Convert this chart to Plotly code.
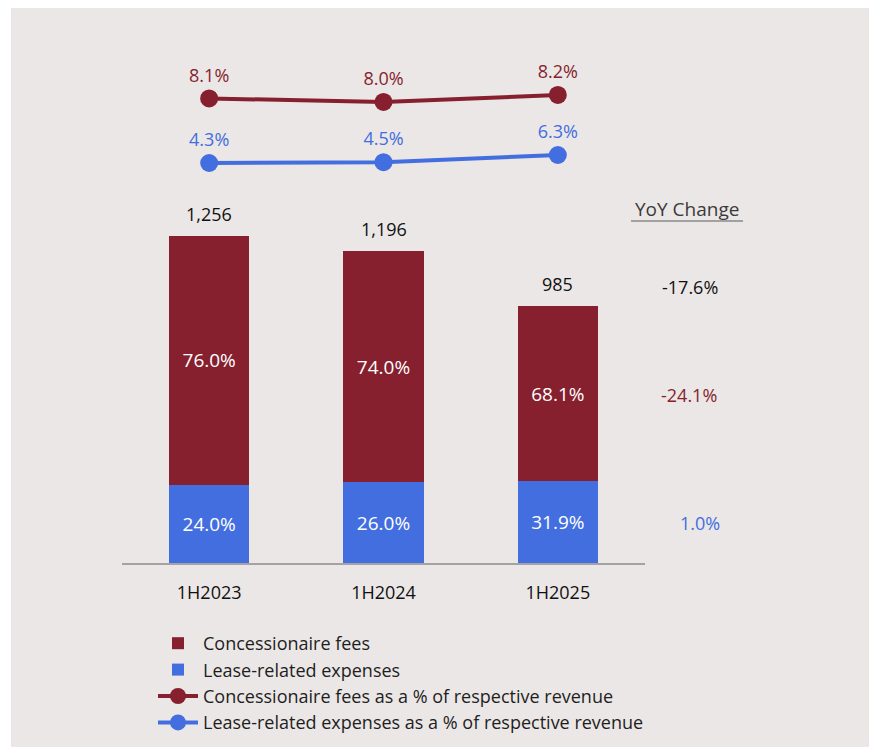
import plotly.graph_objects as go

categories = ["1H2023", "1H2024", "1H2025"]
totals = [1256, 1196, 985]
concession_vals = [955, 885, 671]
lease_vals = [301, 311, 314]
concession_share = ["76.0%", "74.0%", "68.1%"]
lease_share = ["24.0%", "26.0%", "31.9%"]
concession_pct_rev = [8.1, 8.0, 8.2]
lease_pct_rev = [4.3, 4.5, 6.3]
yoy_labels = ["-17.6%", "-24.1%", "1.0%"]

RED = "#861f2e"
BLUE = "#436ee0"
BG = "#ebe7e6"
FONT = "Open Sans"

W, H = 869, 739
L, R, T, B = 114, 232, 32, 184
PH = H - T - B  # plot height in px
PW = W - L - R


def px_x(x):
    return (x - 8 - L) / PW


def px_y(y):
    return (H - B - (y - 8)) / PH


fig = go.Figure()

fig.add_trace(go.Bar(
    x=categories, y=lease_vals, name="Lease-related expenses",
    marker=dict(color=BLUE, line=dict(width=0)), width=0.46,
    text=lease_share, textposition="inside", insidetextanchor="middle",
    textfont=dict(color="white", size=19, family=FONT),
    legendrank=2, hoverinfo="skip",
))
fig.add_trace(go.Bar(
    x=categories, y=concession_vals, name="Concessionaire fees",
    marker=dict(color=RED, line=dict(width=0)), width=0.46,
    text=concession_share, textposition="inside", insidetextanchor="middle",
    textfont=dict(color="white", size=19, family=FONT),
    legendrank=1, hoverinfo="skip",
))
fig.add_trace(go.Scatter(
    x=categories, y=concession_pct_rev, yaxis="y2",
    name="Concessionaire fees as a % of respective revenue",
    mode="lines+markers+text",
    line=dict(color=RED, width=4), marker=dict(color=RED, size=18),
    text=[f"{v:.1f}%" for v in concession_pct_rev], textposition="top center",
    textfont=dict(color=RED, size=18, family=FONT),
    legendrank=3, hoverinfo="skip",
))
fig.add_trace(go.Scatter(
    x=categories, y=lease_pct_rev, yaxis="y3",
    name="Lease-related expenses as a % of respective revenue",
    mode="lines+markers+text",
    line=dict(color=BLUE, width=4), marker=dict(color=BLUE, size=18),
    text=[f"{v:.1f}%" for v in lease_pct_rev], textposition="top center",
    textfont=dict(color=BLUE, size=18, family=FONT),
    legendrank=4, hoverinfo="skip",
))

annotations = []
for c, t in zip(categories, totals):
    annotations.append(dict(
        x=c, y=t, xref="x", yref="y", text=f"{t:,}", showarrow=False,
        xanchor="center", yanchor="bottom", yshift=8,
        font=dict(size=18, color="#111111", family=FONT),
    ))

annotations.append(dict(
    x=px_x(687), y=px_y(209), xref="paper", yref="paper", text="YoY Change",
    showarrow=False, xanchor="center", yanchor="middle",
    font=dict(size=19, color="#3a3a3a", family=FONT),
))
yoy_pos = [(690, 287, "#111111"), (689, 395, RED), (700, 523, BLUE)]
for (px, py, col), lab in zip(yoy_pos, yoy_labels):
    annotations.append(dict(
        x=px_x(px), y=px_y(py), xref="paper", yref="paper", text=lab, showarrow=False,
        xanchor="center", yanchor="middle",
        font=dict(size=18, color=col, family=FONT),
    ))

shapes = [
    dict(type="rect", xref="paper", yref="paper", x0=-0.5, x1=px_x(11),
         y0=-0.6, y1=1.3, fillcolor="white", line=dict(width=0), layer="below"),
    dict(type="line", xref="paper", yref="paper", x0=px_x(631), x1=px_x(743),
         y0=px_y(221), y1=px_y(221), line=dict(color="#8a8a8a", width=1.5)),
]

fig.update_layout(
    width=W, height=H,
    margin=dict(l=L, r=R, t=T, b=B, autoexpand=False),
    paper_bgcolor=BG, plot_bgcolor=BG,
    barmode="stack",
    font=dict(family=FONT, size=18, color="#222222"),
    xaxis=dict(type="category", range=[-0.5, 2.5], showgrid=False,
               showline=True, linecolor="#a3a3a3", linewidth=2,
               ticks="outside", ticklen=12, tickcolor="rgba(0,0,0,0)",
               tickfont=dict(size=18, color="#111111", family=FONT), fixedrange=True),
    yaxis=dict(range=[0, 2008], visible=False, showgrid=False, fixedrange=True),
    yaxis2=dict(range=[-5.17, 9.77], overlaying="y", visible=False, showgrid=False),
    yaxis3=dict(range=[-95.7, 35.05], overlaying="y", visible=False, showgrid=False),
    showlegend=True,
    legend=dict(x=px_x(153), xanchor="left", y=px_y(625), yanchor="top",
                itemwidth=40,
                bgcolor="rgba(0,0,0,0)", font=dict(size=18, color="#1e1e1e", family=FONT),
                traceorder="normal", tracegroupgap=0),
    annotations=annotations,
    shapes=shapes,
)

fig.write_html("out.html")
